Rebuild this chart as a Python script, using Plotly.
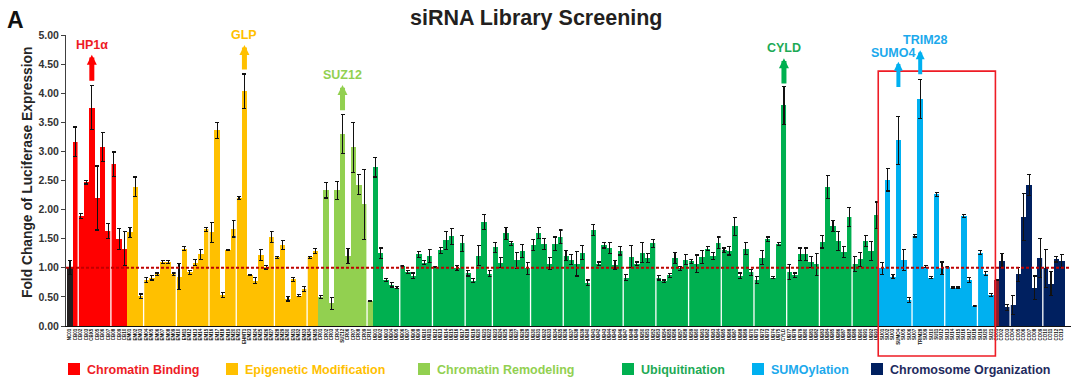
import plotly.graph_objects as go

# ---------------- data ----------------
title_text = "siRNA Library Screening"
panel_label = "A"
y_title = "Fold Change of Luciferase Expression"

group_names = ["Control", "Chromatin Binding", "Epigenetic Modification",
               "Chromatin Remodeling", "Ubiquitination", "SUMOylation",
               "Chromosome Organization"]

control_vals = [1.00]
control_err = [0.12]

chromatin_binding_vals = [3.17, 1.89, 2.47, 3.75, 2.20, 3.07, 1.63, 2.78, 1.49, 1.33]
chromatin_binding_err = [0.25, 0.05, 0.03, 0.38, 0.55, 0.25, 0.13, 0.21, 0.18, 0.29]

epigenetic_vals = [1.61, 2.39, 0.51, 0.79, 0.83, 0.89, 1.10, 1.10, 0.89, 0.85,
                   1.33, 0.92, 1.09, 1.23, 1.66, 1.61, 3.36, 0.53, 1.30, 1.67,
                   2.20, 4.03, 0.88, 0.78, 1.22, 1.01, 1.53, 1.18, 1.39, 0.47,
                   0.80, 0.52, 0.64, 1.18, 1.29]
epigenetic_err = [0.09, 0.17, 0.04, 0.05, 0.04, 0.02, 0.03, 0.02, 0.02, 0.22,
                  0.03, 0.03, 0.05, 0.09, 0.03, 0.17, 0.14, 0.04, 0.01, 0.14,
                  0.02, 0.30, 0.01, 0.05, 0.09, 0.03, 0.10, 0.02, 0.08, 0.04,
                  0.03, 0.02, 0.04, 0.02, 0.04]

remodeling_vals = [0.50, 2.33, 0.39, 2.33, 3.30, 1.20, 3.07, 2.43, 2.09, 0.43]
remodeling_err = [0.03, 0.13, 0.10, 0.16, 0.33, 0.13, 0.43, 0.17, 0.60, 0.01]

ubiquitination_vals = [2.73, 1.25, 0.79, 0.71, 0.66, 1.03, 0.93, 0.86, 1.23, 1.09,
                       1.20, 1.01, 1.30, 1.47, 1.54, 1.00, 1.42, 0.91, 0.78, 1.21,
                       1.79, 0.90, 1.35, 1.09, 1.59, 1.42, 1.13, 1.29, 0.99, 1.39,
                       1.60, 1.41, 1.07, 1.41, 1.53, 1.21, 1.14, 1.07, 1.26, 0.74,
                       1.65, 1.07, 1.39, 1.34, 1.05, 1.29, 0.83, 1.19, 1.07, 1.26,
                       1.17, 1.42, 0.83, 0.77, 0.87, 1.17, 0.99, 1.14, 1.11, 1.07,
                       1.19, 1.33, 1.20, 1.43, 1.30, 1.29, 1.71, 0.86, 1.33, 0.92,
                       0.79, 1.17, 1.49, 0.83, 1.41, 3.79, 0.93, 0.87, 1.23, 1.23,
                       1.10, 1.06, 1.45, 2.39, 1.72, 1.46, 1.27, 1.87, 1.06, 1.15,
                       1.46, 1.29, 1.90]
ubiquitination_err = [0.17, 0.09, 0.03, 0.04, 0.02, 0.01, 0.03, 0.05, 0.05, 0.04,
                      0.11, 0.01, 0.05, 0.15, 0.14, 0.04, 0.14, 0.05, 0.03, 0.17,
                      0.13, 0.05, 0.08, 0.09, 0.10, 0.03, 0.14, 0.11, 0.10, 0.09,
                      0.10, 0.09, 0.10, 0.12, 0.12, 0.08, 0.09, 0.21, 0.12, 0.05,
                      0.10, 0.03, 0.05, 0.10, 0.07, 0.07, 0.05, 0.19, 0.03, 0.17,
                      0.08, 0.07, 0.04, 0.02, 0.03, 0.09, 0.04, 0.09, 0.04, 0.15,
                      0.11, 0.04, 0.06, 0.10, 0.04, 0.07, 0.16, 0.05, 0.10, 0.05,
                      0.06, 0.12, 0.04, 0.02, 0.02, 0.32, 0.13, 0.04, 0.11, 0.11,
                      0.09, 0.19, 0.11, 0.20, 0.10, 0.16, 0.09, 0.16, 0.13, 0.12,
                      0.10, 0.16, 0.23]

sumoylation_vals = [0.99, 2.51, 0.85, 3.19, 1.14, 0.45, 1.55, 3.90, 1.02, 0.83,
                    2.26, 0.99, 1.02, 0.66, 0.66, 1.89, 0.79, 0.34, 1.26, 0.90, 0.53]
sumoylation_err = [0.10, 0.19, 0.04, 0.41, 0.18, 0.04, 0.02, 0.33, 0.02, 0.02,
                   0.03, 0.11, 0.01, 0.01, 0.01, 0.02, 0.04, 0.01, 0.03, 0.03, 0.03]

chromosome_vals = [0.79, 1.12, 0.32, 0.36, 0.89, 1.87, 2.43, 0.66, 1.17, 0.99,
                   0.73, 1.15, 1.12]
chromosome_err = [0.00, 0.12, 0.05, 0.17, 0.12, 0.40, 0.18, 0.20, 0.34, 0.33,
                  0.20, 0.05, 0.11]

group_values = [control_vals, chromatin_binding_vals, epigenetic_vals, remodeling_vals,
                ubiquitination_vals, sumoylation_vals, chromosome_vals]
group_errors = [control_err, chromatin_binding_err, epigenetic_err, remodeling_err,
                ubiquitination_err, sumoylation_err, chromosome_err]
group_prefix = ["NC", "CB", "EM", "CR", "UB", "SU", "CO"]

# named hits: (label, group, index within group, arrow tip, arrow tail, label y)
hits = [
    ("HP1α", 1, 3, 4.66, 4.19, 4.83),
    ("GLP", 2, 21, 4.83, 4.38, 5.00),
    ("SUZ12", 3, 4, 4.14, 3.68, 4.31),
    ("CYLD", 4, 75, 4.60, 4.14, 4.77),
    ("SUMO4", 5, 3, 4.54, 4.08, 4.69),
    ("TRIM28", 5, 7, 4.74, 4.30, 4.91),
]
hit_gene = {"HP1α": "CBX5", "GLP": "EHMT1", "SUZ12": "SUZ12", "CYLD": "CYLD",
            "SUMO4": "SUMO4", "TRIM28": "TRIM28"}

reference_level = 1.0
y_ticks = [0.0, 0.5, 1.0, 1.5, 2.0, 2.5, 3.0, 3.5, 4.0, 4.5, 5.0]

# ---------------- styles ----------------
bar_colors = ["#231F20", "#FF0000", "#FFC000", "#92D050", "#00B050", "#00B0F0", "#002060"]
text_colors = ["#231F20", "#EE1C25", "#FFC000", "#92D050", "#1DAA55", "#1CA9EC", "#1F2B5E"]
font_family = "Liberation Sans, Arial, sans-serif"
separator_idx = [2, 8, 14, 20, 26, 31, 38, 44, 55, 61, 67, 73, 78, 85, 91, 96, 102,
                 108, 114, 120, 126, 132, 138, 144, 155, 161, 167, 173, 179]

W, H = 1080, 384
ML, MR, MT, MB = 66, 9, 35, 58
plot_w = W - ML - MR
plot_h = H - MT - MB
x_range = [-0.74, 183.67]
y_range = [0, 5]


def px_x(px):
    return (px - ML) / plot_w


def px_y(py):
    return (H - MB - py) / plot_h


# ---------------- build ----------------
fig = go.Figure()
starts = []
pos = 0
all_labels = []
for g, vals in enumerate(group_values):
    starts.append(pos)
    xs = list(range(pos, pos + len(vals)))
    labels = [f"{group_prefix[g]}{i + 1:02d}" for i in range(len(vals))]
    for name, hg, hi, *_ in hits:
        if hg == g:
            labels[hi] = hit_gene[name]
    all_labels += labels
    colors = [bar_colors[g]] * len(vals)
    if g == 6:
        colors[0] = "#861F2C"
    fig.add_trace(go.Bar(
        x=xs, y=vals, width=1.0, name=group_names[g],
        marker=dict(color=colors, line=dict(width=0)),
        error_y=dict(type="data", array=group_errors[g], color="#111111",
                     thickness=1.1, width=2, visible=True),
        showlegend=False, hoverinfo="x+y"))
    pos += len(vals)
n_total = pos

shapes = []
# white separators between plate groups
for s in separator_idx:
    shapes.append(dict(type="line", xref="x", yref="y", x0=s - 0.5, x1=s - 0.5,
                       y0=0, y1=5, line=dict(color="white", width=1.3), layer="above"))
# reference line at 1.0
shapes.append(dict(type="line", xref="paper", yref="y", x0=0, x1=1,
                   y0=reference_level, y1=reference_level,
                   line=dict(color="#C00000", width=2, dash="3px,2px"), layer="above"))
# red box around SUMOylation group
sumo_start = starts[5]
sumo_end = starts[6]
shapes.append(dict(type="rect", xref="x", yref="paper",
                   x0=sumo_start - 0.7, x1=sumo_end - 0.2,
                   y0=-0.515 / y_range[1], y1=4.38 / y_range[1],
                   line=dict(color="#EE1C25", width=1.6), fillcolor="rgba(0,0,0,0)",
                   layer="above"))

annotations = []
# arrows and hit labels
for name, g, i, tip, tail, ly in hits:
    xi = starts[g] + i
    col = bar_colors[g]
    aw = 5 if g != 5 else 4
    annotations.append(dict(x=xi, y=tip, ax=xi, ay=tail, xref="x", yref="y",
                            axref="x", ayref="y", showarrow=True, arrowhead=2,
                            arrowsize=0.4 if g != 5 else 0.45, arrowwidth=aw,
                            arrowcolor=col, text=""))
    tx = xi
    if name == "SUMO4":
        tx = xi - 0.9
    if name == "TRIM28":
        tx = xi + 0.9
    annotations.append(dict(x=tx, y=ly, xref="x", yref="y", showarrow=False,
                            text=f"<b>{name}</b>", xanchor="center", yanchor="middle",
                            font=dict(family=font_family, size=12.5, color=text_colors[g])))

# title, panel label, y title
annotations.append(dict(x=px_x(536.5), y=1, xref="paper", yref="paper", yshift=17,
                        showarrow=False, text=f"<b>{title_text}</b>",
                        xanchor="center", yanchor="middle",
                        font=dict(family=font_family, size=21.5, color="#231F20")))
annotations.append(dict(x=px_x(15), y=1, xref="paper", yref="paper", yshift=15,
                        showarrow=False, text=f"<b>{panel_label}</b>",
                        xanchor="center", yanchor="middle",
                        font=dict(family=font_family, size=23, color="#111111")))
annotations.append(dict(x=px_x(27.5), y=px_y(172.5), xref="paper", yref="paper",
                        showarrow=False, text=f"<b>{y_title}</b>", textangle=-90,
                        xanchor="center", yanchor="middle",
                        font=dict(family=font_family, size=13.8, color="#262626")))

# manual legend
legend_square_px = [68, 226, 418, 622, 752, 871]
for k, g in enumerate(range(1, 7)):
    x0 = legend_square_px[k]
    shapes.append(dict(type="rect", xref="paper", yref="paper",
                       x0=px_x(x0), x1=px_x(x0 + 12), y0=px_y(375), y1=px_y(363),
                       line=dict(width=0), fillcolor=bar_colors[g], layer="above"))
    annotations.append(dict(x=px_x(x0 + 17), y=px_y(369.5), xref="paper", yref="paper",
                            showarrow=False, text=f"<b>{group_names[g]}</b>",
                            xanchor="left", yanchor="middle",
                            font=dict(family=font_family, size=12.5, color=text_colors[g])))

fig.update_layout(
    width=W, height=H,
    margin=dict(l=ML, r=MR, t=MT, b=MB, pad=0),
    paper_bgcolor="white", plot_bgcolor="white",
    barmode="overlay", bargap=0,
    shapes=shapes, annotations=annotations,
    showlegend=False,
    font=dict(family=font_family),
    xaxis=dict(range=x_range, tickmode="array", tickvals=list(range(n_total)),
               ticktext=all_labels, tickangle=-90,
               tickfont=dict(size=4.5, color="#111111", family=font_family, weight="bold"),
               showline=True, linecolor="#111111", linewidth=1, ticks="",
               showgrid=False, zeroline=False, automargin=False),
    yaxis=dict(range=y_range, tickmode="array", tickvals=y_ticks,
               ticktext=[f"{v:.2f}" for v in y_ticks],
               tickfont=dict(size=10.5, color="#333333", family=font_family, weight="bold"),
               showline=True, linecolor="#404040", linewidth=1, ticks="outside",
               ticklen=4, tickcolor="#404040", showgrid=False, zeroline=False,
               automargin=False),
)

fig.write_html("out.html", config={"displayModeBar": False, "responsive": False},
               post_script="document.body.style.margin='0';document.body.style.padding='0';")
